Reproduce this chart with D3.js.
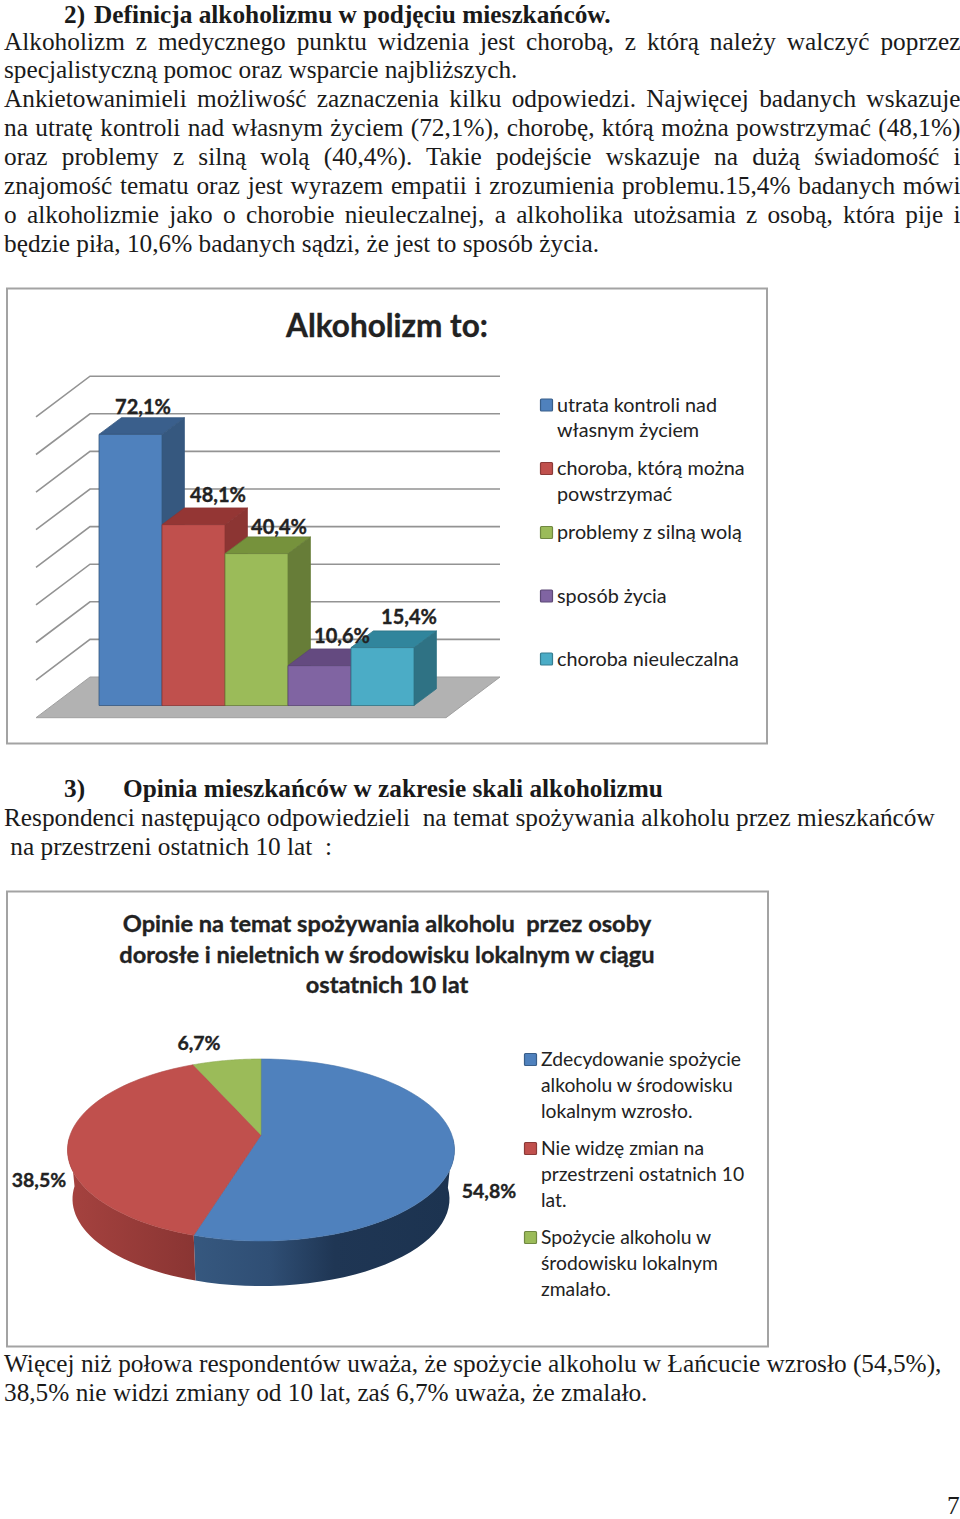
<!DOCTYPE html>
<html lang="pl">
<head>
<meta charset="UTF-8">
<title>Alkoholizm</title>
<script src="https://d3js.org/d3.v7.min.js"></script>
<style>
  html, body { margin: 0; background: #fff; }
  svg { display: block; }
  .body-text { font-family: "Liberation Serif", serif; font-size: 25.3px; fill: #1a1a1a; }
  .chart-text { font-family: Lato, sans-serif; fill: #222; }
  .heavy { font-weight: bold; stroke: #222; stroke-width: 0.35px; }
</style>
</head>
<body>
<script>
// page text
const introLines = [
  "Alkoholizm z medycznego punktu widzenia jest chorobą, z którą należy walczyć poprzez",
  "specjalistyczną pomoc oraz wsparcie najbliższych.",
  "Ankietowanimieli możliwość zaznaczenia kilku odpowiedzi. Najwięcej badanych wskazuje",
  "na utratę kontroli nad własnym życiem (72,1%), chorobę, którą można powstrzymać (48,1%)",
  "oraz problemy z silną wolą (40,4%). Takie podejście wskazuje na dużą świadomość i",
  "znajomość tematu oraz jest wyrazem empatii i zrozumienia problemu.15,4% badanych mówi",
  "o alkoholizmie jako o chorobie nieuleczalnej, a alkoholika utożsamia z osobą, która pije i",
  "będzie piła, 10,6% badanych sądzi, że jest to sposób życia."
];
const introJustified = [true, false, true, true, true, true, true, false];
const section3Lines = [
  "Respondenci następująco odpowiedzieli  na temat spożywania alkoholu przez mieszkańców",
  " na przestrzeni ostatnich 10 lat  :"
];
const outroLines = [
  "Więcej niż połowa respondentów uważa, że spożycie alkoholu w Łańcucie wzrosło (54,5%),",
  "38,5% nie widzi zmiany od 10 lat, zaś 6,7% uważa, że zmalało."
];

// bar chart
const barTitle = "Alkoholizm to:";
const barCategories = ["utrata kontroli nad własnym życiem", "choroba, którą można powstrzymać", "problemy z silną wolą", "sposób życia", "choroba nieuleczalna"];
const barValues = [72.1, 48.1, 40.4, 10.6, 15.4];
const barLabels = ["72,1%", "48,1%", "40,4%", "10,6%", "15,4%"];
const barLegend = [["utrata kontroli nad", "własnym życiem"], ["choroba, którą można", "powstrzymać"], ["problemy z silną wolą"], ["sposób życia"], ["choroba nieuleczalna"]];
const barFront = ["#4f81bd", "#c0504d", "#9bbb59", "#8064a2", "#4bacc6"];
const barTop = ["#3a5f8c", "#943634", "#76923c", "#644a80", "#31859c"];
const barSide = ["#36587f", "#8c3533", "#677d38", "#5a4573", "#2f7284"];
const gridTicks = [0, 10, 20, 30, 40, 50, 60, 70, 80];

// pie chart
const pieTitle = ["Opinie na temat spożywania alkoholu  przez osoby", "dorosłe i nieletnich w środowisku lokalnym w ciągu", "ostatnich 10 lat"];
const pieValues = [54.8, 38.5, 6.7];
const pieLabels = ["54,8%", "38,5%", "6,7%"];
const pieLegend = [["Zdecydowanie spożycie", "alkoholu w środowisku", "lokalnym wzrosło."], ["Nie widzę zmian na", "przestrzeni ostatnich 10", "lat."], ["Spożycie alkoholu w", "środowisku lokalnym", "zmalało."]];
const pieColors = ["#4f81bd", "#c0504d", "#9bbb59"];

const svg = d3.select("body").append("svg").attr("width", 960).attr("height", 1519);
const defs = svg.append("defs");

// draws body text, stretches the word gaps on justified lines
function textLines(lines, x, y0, step, justified) {
  lines.forEach((line, i) => {
    const t = svg.append("text").attr("class", "body-text")
      .style("white-space", "pre")
      .attr("x", x).attr("y", y0 + i * step).text(line);
    if (justified && justified[i]) {
      const gaps = line.split(" ").length - 1;
      const extra = (956.5 - t.node().getComputedTextLength()) / gaps;
      t.style("word-spacing", extra + "px");
    }
  });
}

function boldText(x, y, s) {
  svg.append("text").attr("class", "body-text").attr("x", x).attr("y", y)
    .style("font-weight", "bold").text(s);
}

boldText(64, 22.6, "2)");
boldText(94, 22.6, "Definicja alkoholizmu w podjęciu mieszkańców.");
textLines(introLines, 4, 49.5, 28.9, introJustified);

boldText(64, 797, "3)");
boldText(123, 797, "Opinia mieszkańców w zakresie skali alkoholizmu");
textLines(section3Lines, 4, 825.5, 29);
textLines(outroLines, 4, 1371.5, 29);
svg.append("text").attr("class", "body-text").attr("x", 947).attr("y", 1513.5).text("7");

// frames
[[7, 288.5, 760, 455], [7, 891.5, 761, 455]].forEach(f => {
  svg.append("rect").attr("x", f[0]).attr("y", f[1]).attr("width", f[2]).attr("height", f[3])
    .attr("fill", "#fff").attr("stroke", "#a3a3a3").attr("stroke-width", 2);
});

function legend(items, colors, markerX, textX, firstY, offsets, lineStep, size) {
  items.forEach((lines, i) => {
    const y = firstY + offsets[i];
    svg.append("rect").attr("x", markerX + 0.5).attr("y", y - 6).attr("width", 12).attr("height", 12).attr("rx", 1)
      .attr("fill", colors[i]).attr("stroke", d3.color(colors[i]).darker(0.9)).attr("stroke-width", 1.2);
    lines.forEach((line, j) => {
      svg.append("text").attr("class", "chart-text").attr("x", textX).attr("y", y + j * lineStep)
        .attr("dy", "0.35em").style("font-size", size + "px").text(line);
    });
  });
}

// ---------- bar chart ----------
const x = d3.scaleBand().domain(barCategories).range([99, 414]);
const y = d3.scaleLinear().domain([0, 80]).range([705.5, 404.7]);
const depthX = 22.4, depthY = 16.7;      // bar depth
const wallX = 54, wallY = 40.7;          // side wall of the chart box
const wallShift = -28.5;                 // back wall sits above the bar base

svg.append("text").attr("class", "chart-text heavy").attr("x", 387).attr("y", 337)
  .attr("text-anchor", "middle").style("font-size", "31.5px")
  .text(barTitle);

// floor
const fy = y(0) + wallShift;
svg.append("polygon")
  .attr("points", [[90, fy], [500, fy], [500 - wallX, fy + wallY], [90 - wallX, fy + wallY]].join(" "))
  .attr("fill", "#b2b2b2").attr("stroke", "#a0a0a0");

// grid lines, back and side wall
svg.append("g").selectAll("path").data(gridTicks.slice(1)).join("path")
  .attr("d", d => {
    const gy = y(d) + wallShift;
    return `M${90 - wallX},${gy + wallY}L90,${gy}L500,${gy}`;
  })
  .attr("fill", "none").attr("stroke", "#939393").attr("stroke-width", 1.6);

// bars, left to right so the next front hides the previous side
const barG = svg.append("g").selectAll("g").data(barCategories).join("g");
barG.each(function(c, i) {
  const g = d3.select(this);
  const x0 = x(c), x1 = x0 + x.bandwidth(), y0 = y(0), y1 = y(barValues[i]);
  const poly = (pts, fill) => g.append("polygon").attr("points", pts.join(" "))
    .attr("fill", fill).attr("stroke", barSide[i]).attr("stroke-width", 0.8);
  poly([[x1, y1], [x1 + depthX, y1 - depthY], [x1 + depthX, y0 - depthY], [x1, y0]], barSide[i]);
  poly([[x0, y1], [x1, y1], [x1 + depthX, y1 - depthY], [x0 + depthX, y1 - depthY]], barTop[i]);
  poly([[x0, y1], [x1, y1], [x1, y0], [x0, y0]], barFront[i]);
});

// value labels, nudged by hand like the original
const labelNudgeX = [12.5, 24.5, 22.5, 22.5, 26.5];
const labelNudgeY = [-27.5, -30, -27, -30, -31];
svg.append("g").selectAll("text").data(barCategories).join("text")
  .attr("class", "chart-text heavy")
  .attr("x", (c, i) => x(c) + x.bandwidth() / 2 + labelNudgeX[i])
  .attr("y", (c, i) => y(barValues[i]) + labelNudgeY[i])
  .attr("text-anchor", "middle").attr("dy", "0.35em")
  .style("font-size", "20px").text((c, i) => barLabels[i]);

legend(barLegend, barFront, 540, 557, 405, [0, 63.5, 127.5, 191, 254], 25.5, 19.8);

// ---------- pie chart ----------
const pieCx = 261, topCy = 1150, topRx = 193.5, topRy = 91;
const botCy = 1199, botRx = 188.5, botRy = 87;
const persp = -0.165;   // moves the pie centre back, as the 3D view does

// angle on the pie (0 = top, clockwise) to a point on the drawn ellipse
function rimPoint(a, cy, rx, ry) {
  const u = Math.sin(a), v = -Math.cos(a);
  const w = 1 + persp * v;
  const px = u * Math.sqrt(1 - persp * persp) / w, py = (v + persp) / w;
  return [pieCx + rx * px, cy + ry * py];
}
const centre = [pieCx, topCy + topRy * persp];
const rimLine = d3.line();
const arcs = d3.pie().sort(null).value(d => d)(pieValues);
const steps = a => d3.range(0, 61).map(k => a.startAngle + (a.endAngle - a.startAngle) * k / 60);

const sideGrad = (id, stops, x1, x2) => {
  const g = defs.append("linearGradient").attr("id", id).attr("gradientUnits", "userSpaceOnUse")
    .attr("x1", x1).attr("x2", x2).attr("y1", 0).attr("y2", 0);
  g.selectAll("stop").data(stops).join("stop")
    .attr("offset", d => d[0]).attr("stop-color", d => d[1]);
};
sideGrad("side0", [[0, "#36587f"], [0.3, "#2f4e74"], [0.55, "#1f3654"], [1, "#1c3350"]], 193, 450);
sideGrad("side1", [[0, "#a5423f"], [1, "#8a3533"]], 70, 194);

// side walls: only what faces the viewer
[0, 1].forEach(i => {
  const visible = steps(arcs[i]).filter(a => a > Math.PI / 2 && a < Math.PI * 1.5);
  const top = visible.map(a => rimPoint(a, topCy, topRx, topRy));
  const bot = visible.map(a => rimPoint(a, botCy, botRx, botRy)).reverse();
  svg.append("path").attr("d", rimLine(top.concat(bot)) + "Z").attr("fill", `url(#side${i})`);
});

// top faces
svg.append("g").selectAll("path").data(arcs).join("path")
  .attr("d", a => rimLine([centre].concat(steps(a).map(t => rimPoint(t, topCy, topRx, topRy)))) + "Z")
  .attr("fill", (a, i) => pieColors[i])
  .attr("stroke", (a, i) => d3.color(pieColors[i]).darker(0.3)).attr("stroke-width", 0.6);

svg.append("g").selectAll("text").data(pieTitle).join("text")
  .attr("class", "chart-text heavy").attr("x", 387).attr("y", (d, i) => 924 + i * 30.5).attr("dy", "0.35em")
  .attr("text-anchor", "middle").style("font-size", "23.6px")
  .style("white-space", "pre").text(d => d);

// value labels sit by hand around the pie
const pieLabelX = [489, 39, 199];
const pieLabelY = [1191, 1180, 1043];
svg.append("g").selectAll("text").data(pieLabels).join("text")
  .attr("class", "chart-text heavy")
  .attr("x", (d, i) => pieLabelX[i])
  .attr("y", (d, i) => pieLabelY[i])
  .attr("text-anchor", "middle").attr("dy", "0.35em")
  .style("font-size", "19.5px").text(d => d);

legend(pieLegend, pieColors, 524, 541, 1059.5, [0, 89, 178], 25.8, 19.3);
</script>
</body>
</html>
